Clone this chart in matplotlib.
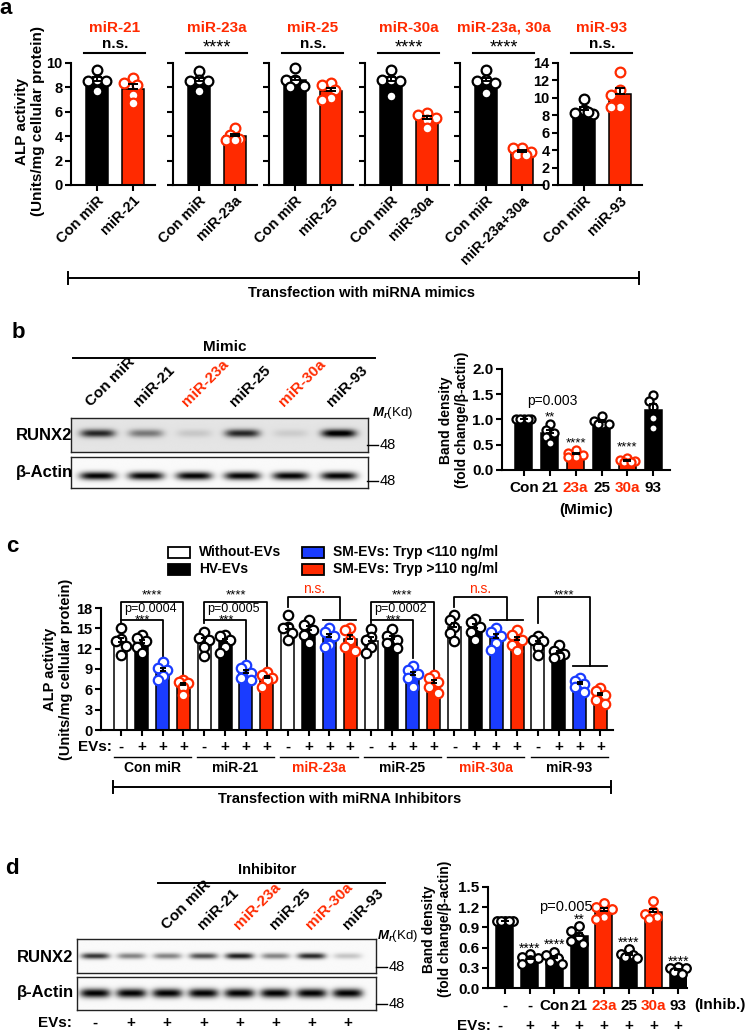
import numpy as np
import matplotlib
matplotlib.use('Agg')
import matplotlib.pyplot as plt
from matplotlib.transforms import Affine2D, blended_transform_factory
from matplotlib.lines import Line2D
from matplotlib.patches import Rectangle

plt.rcParams['font.family'] = ['Liberation Sans', 'DejaVu Sans']
plt.rcParams['font.weight'] = 'bold'
plt.rcParams['mathtext.fontset'] = 'custom'
plt.rcParams['mathtext.rm'] = 'Liberation Sans'
plt.rcParams['mathtext.it'] = 'Liberation Sans:italic'

RED = '#ff2a00'
BLUE = '#1a3cff'

# a: ALP activity after transfection with mimics (Con miR vs mimic)
a_titles = ['miR-21', 'miR-23a', 'miR-25', 'miR-30a', 'miR-23a, 30a', 'miR-93']
a_names = ['miR-21', 'miR-23a', 'miR-25', 'miR-30a', 'miR-23a+30a', 'miR-93']
a_sig = ['n.s.', '****', 'n.s.', '****', '****', 'n.s.']
a_con = [[9.45, 8.63, 8.5, 8.5, 7.67],
         [9.37, 8.63, 8.5, 8.5, 7.67],
         [9.6, 8.6, 8.6, 8.1, 8.0],
         [9.45, 8.63, 8.6, 8.5, 7.26],
         [9.45, 8.63, 8.5, 8.4, 7.5],
         [9.9, 8.6, 8.3, 8.1, 8.4]]
a_mim = [[8.77, 8.36, 8.22, 7.4, 6.7],
         [4.66, 4.1, 3.8, 3.7, 3.7],
         [8.4, 8.2, 7.8, 7.1, 7.0],
         [5.9, 5.75, 5.5, 5.35, 4.66],
         [3.0, 3.0, 2.74, 2.47, 2.5],
         [13.0, 10.85, 10.36, 8.94, 8.94]]

# b: western blot (mimic) + band density
b_lanes = ['Con miR', 'miR-21', 'miR-23a', 'miR-25', 'miR-30a', 'miR-93']
b_red = [False, False, True, False, True, False]
b_runx2 = [0.8, 0.45, 0.12, 0.8, 0.1, 1.0]
b_actin = [0.95, 0.95, 0.95, 0.95, 0.95, 0.95]
b_ticks = ['Con', '21', '23a', '25', '30a', '93']
b_dens = [[1.0, 1.0, 1.0, 1.0, 1.0],
          [0.92, 0.8, 0.74, 0.66, 0.53],
          [0.4, 0.33, 0.3, 0.26, 0.25],
          [1.06, 0.97, 0.92, 0.92, 0.91],
          [0.23, 0.2, 0.17, 0.15, 0.15],
          [1.49, 1.37, 1.25, 1.02, 0.84]]
b_stars = ['', '**', '****', '', '****', '']

# c: ALP activity after transfection with inhibitors, +/- EVs
c_groups = ['Con miR', 'miR-21', 'miR-23a', 'miR-25', 'miR-30a', 'miR-93']
c_group_red = [False, False, True, False, True, False]
c_series = ['Without-EVs', 'HV-EVs', 'SM-EVs: Tryp <110 ng/ml', 'SM-EVs: Tryp >110 ng/ml']
c_colors = ['white', 'black', BLUE, RED]
c_pts = ['black', 'black', BLUE, RED]
c_evs = ['-', '+', '+', '+']
c_vals = [
    [[15.04, 13.4, 13.07, 12.4, 11.1], [14.05, 13.56, 13.07, 12.3, 11.3],
     [10.1, 9.1, 8.9, 7.9, 7.4], [7.4, 7.15, 6.9, 6.4, 5.2]],
    [[14.5, 13.56, 13.3, 12.3, 10.85], [14.05, 13.8, 13.3, 12.3, 11.3],
     [9.6, 9.1, 8.4, 7.6, 7.4], [8.6, 8.1, 7.6, 7.4, 6.4]],
    [[17.0, 15.2, 15.0, 14.3, 13.3], [16.27, 15.5, 14.8, 14.05, 12.8],
     [15.04, 14.5, 13.8, 12.6, 12.3], [15.04, 14.8, 13.3, 12.3, 11.6]],
    [[14.9, 13.7, 13.3, 12.3, 11.4], [14.9, 13.8, 13.3, 12.8, 12.1],
     [9.4, 8.9, 8.2, 7.6, 6.4], [8.1, 7.6, 7.15, 6.4, 5.5]],
    [[16.9, 16.2, 15.2, 14.3, 13.07], [16.4, 16.0, 15.2, 14.5, 13.3],
     [15.04, 14.5, 13.8, 12.8, 11.8], [14.7, 14.05, 13.3, 12.6, 11.6]],
    [[13.8, 13.3, 13.07, 12.3, 11.1], [12.6, 11.6, 11.2, 10.9, 10.6],
     [7.7, 7.3, 6.8, 6.3, 5.6], [6.2, 5.7, 5.2, 4.5, 3.9]],
]

# d: western blot (inhibitor) + band density
d_lanes = ['', '', 'Con miR', 'miR-21', 'miR-23a', 'miR-25', 'miR-30a', 'miR-93']
d_red = [False, False, False, False, True, False, True, False]
d_evs = ['-', '+', '+', '+', '+', '+', '+', '+']
d_runx2 = [0.75, 0.45, 0.45, 0.65, 0.85, 0.45, 0.8, 0.2]
d_actin = [0.95, 0.95, 0.95, 0.95, 0.95, 0.95, 0.95, 0.95]
d_ticks = ['-', '-', 'Con', '21', '23a', '25', '30a', '93']
d_dens = [[1.0, 1.0, 1.0, 1.0, 1.0],
          [0.5, 0.46, 0.44, 0.41, 0.35],
          [0.53, 0.49, 0.44, 0.39, 0.36],
          [0.92, 0.84, 0.76, 0.7, 0.66],
          [1.26, 1.2, 1.18, 1.05, 1.03],
          [0.58, 0.51, 0.49, 0.46, 0.44],
          [1.29, 1.15, 1.1, 1.05, 1.03],
          [0.31, 0.3, 0.29, 0.24, 0.21]]
d_stars = ['', '****', '****', '**', '', '****', '', '****']

W, H = 745, 1033
fig = plt.figure(figsize=(W / 100, H / 100), dpi=100)
PX = Affine2D().scale(1 / W, -1 / H).translate(0, 1) + fig.transFigure


def px_axes(x0, y0, x1, y1):
    return fig.add_axes([x0 / W, 1 - y1 / H, (x1 - x0) / W, (y1 - y0) / H])


def ftext(x, y, s, **kw):
    kw.setdefault('ha', 'center')
    kw.setdefault('va', 'center')
    fig.text(x, y, s, transform=PX, **kw)


def fline(xs, ys, lw=1.4):
    fig.add_artist(Line2D(xs, ys, transform=PX, color='black', lw=lw))


def xdata_ypx(ax):
    return blended_transform_factory(ax.transData, PX)


def style(ax, size=10.5):
    for s in ('top', 'right'):
        ax.spines[s].set_visible(False)
    for s in ('left', 'bottom'):
        ax.spines[s].set_linewidth(1.5)
    ax.tick_params(width=1.5, length=4, labelsize=size, pad=2)


def swarm(ax, x, vals, d, lim):
    # simple beeswarm in pixel space, kept inside +-lim pixels
    tr = ax.transData
    ppu = tr.transform((1, 0))[0] - tr.transform((0, 0))[0]
    placed, xs = [], []
    for v in vals:
        yp = tr.transform((x, v))[1]
        best, best_d = 0.0, -1
        for k in (0, -1, 1, -2, 2, -3, 3, -4, 4):
            xo = k * 0.5 * d
            if abs(xo) > lim:
                continue
            dm = min([np.hypot(xo - a, yp - b) for a, b in placed] or [1e9])
            if dm >= 0.85 * d:
                best = xo
                break
            if dm > best_d:
                best, best_d = xo, dm
        placed.append((best, yp))
        xs.append(x + best / ppu)
    return xs


def dot_bar(ax, x, vals, fc, pc, width, d, cap, ms):
    m = np.mean(vals)
    se = np.std(vals, ddof=1) / np.sqrt(len(vals))
    ax.bar(x, m, width, color=fc, edgecolor='black', linewidth=1.1, zorder=2)
    tr = ax.transData
    half = (tr.transform((width, 0))[0] - tr.transform((0, 0))[0]) / 2
    xs = swarm(ax, x, vals, d, half)
    ax.plot(xs, vals, 'o', ls='none', ms=ms, mfc='white', mec=pc, mew=1.6,
            zorder=3, clip_on=False)
    ax.errorbar(x, m, yerr=[[0], [se]], fmt='none', ecolor='black',
                elinewidth=1.4, capsize=cap, capthick=1.4, zorder=4)


def blot(x0, y0, x1, y1, xl, inten, bg, yc, hy, hx):
    ax = px_axes(x0, y0, x1, y1)
    xx = np.linspace(xl[0], xl[1], 500)
    yy = np.linspace(0, 1, 80)
    X, Y = np.meshgrid(xx, yy)
    img = np.full(X.shape, bg)
    for i, v in enumerate(inten):
        band = v * np.exp(-np.abs((X - i) / hx) ** 4 - ((Y - yc) / hy) ** 2)
        img = img + band * (1 - img)
    ax.imshow(img, cmap='gray_r', vmin=0, vmax=0.95, origin='lower', aspect='auto',
              extent=(xl[0], xl[1], 0, 1), interpolation='bilinear')
    ax.set_xlim(xl)
    ax.set_ylim(0, 1)
    ax.set_xticks([])
    ax.set_yticks([])
    for s in ax.spines.values():
        s.set_linewidth(1.0)
        s.set_color('#222222')
    return ax


# ---------------- a ----------------
ftext(6, 9, 'a', fontsize=16)
a_left = [71, 173, 269, 365, 460, 558]
for i in range(6):
    x0 = a_left[i]
    ax = px_axes(x0, 63, x0 + 84, 185)
    top = 14 if i == 5 else 10
    ax.set_xlim(-0.72, 1.62)
    ax.set_ylim(0, top)
    style(ax, 10.5)
    ax.set_yticks(range(0, top + 1, 2))
    if i not in (0, 5):
        ax.set_yticklabels([])
    ax.set_xticks([0, 1])
    ax.set_xticklabels(['Con miR', a_names[i]], rotation=45, ha='right',
                       rotation_mode='anchor')
    dot_bar(ax, 0, a_con[i], 'black', 'black', 0.62, 9, 3.5, 7)
    dot_bar(ax, 1, a_mim[i], RED, RED, 0.62, 9, 3.5, 7)
    tr = xdata_ypx(ax)
    ax.text(0.5, 32, a_titles[i], transform=tr, color=RED, fontsize=11,
            ha='center', va='baseline')
    if a_sig[i] == 'n.s.':
        ax.text(0.5, 48, 'n.s.', transform=tr, fontsize=11, ha='center', va='baseline')
    else:
        ax.text(0.5, 52, a_sig[i], transform=tr, fontsize=13, fontweight='normal',
                ha='center', va='baseline')
    ax.plot([-0.35, 1.35], [53, 53], transform=tr, color='black', lw=1.5, clip_on=False)

ftext(30, 121, 'ALP activity\n(Units/mg cellular protein)', rotation=90,
      fontsize=11, linespacing=1.1)
fline([68, 639], [278, 278])
fline([68, 68], [272, 284])
fline([639, 639], [272, 284])
ftext(362, 293, 'Transfection with miRNA mimics', fontsize=10.5)

# ---------------- b ----------------
ftext(18, 332, 'b', fontsize=16)
ftext(225, 347, 'Mimic', fontsize=11)
fline([73, 375], [358, 358])
bx = (-0.55, 5.6)
axb1 = blot(71, 418, 368, 452, bx, b_runx2, 0.1, 0.55, 0.12, 0.36)
axb2 = blot(71, 457, 368, 488, bx, b_actin, 0.02, 0.39, 0.13, 0.37)
tr = xdata_ypx(axb1)
for i, lab in enumerate(b_lanes):
    axb1.text(i - 0.1, 409, lab, transform=tr, rotation=45, ha='left', va='bottom',
              rotation_mode='anchor', fontsize=11, color=RED if b_red[i] else 'black')
ftext(44, 435, 'RUNX2', fontsize=12)
ftext(44, 472, '\u03b2-Actin', fontsize=12)
ftext(372, 413, '$M_r$(Kd)', ha='left', fontsize=9.5, fontweight='normal')
fline([367, 378], [445, 445], lw=1.0)
ftext(380, 445, '48', ha='left', fontsize=10.5, fontweight='normal')
fline([367, 378], [481, 481], lw=1.0)
ftext(380, 481, '48', ha='left', fontsize=10.5, fontweight='normal')

ax = px_axes(502, 369, 670, 470)
ax.set_xlim(-0.85, 5.65)
ax.set_ylim(0, 2)
style(ax, 11)
ax.set_yticks([0, 0.5, 1.0, 1.5, 2.0])
ax.set_yticklabels(['0.0', '0.5', '1.0', '1.5', '2.0'])
ax.set_xticks(range(6))
ax.set_xticklabels(b_ticks)
ax.tick_params(axis='x', pad=4)
for lab, r in zip(ax.get_xticklabels(), b_red):
    if r:
        lab.set_color(RED)
for i, vals in enumerate(b_dens):
    col = RED if b_red[i] else 'black'
    dot_bar(ax, i, vals, col, col, 0.66, 7.5, 3, 5.8)
tr = xdata_ypx(ax)
star_y = [0, 420, 446, 0, 450, 0]
for i, s in enumerate(b_stars):
    if s:
        ax.text(i, star_y[i], s, transform=tr, fontsize=9.5, fontweight='normal',
                ha='center', va='baseline')
ax.text(1.1, 405, 'p=0.003', transform=tr, fontsize=10, fontweight='normal',
        ha='center', va='baseline')
ax.text(2.4, 510, '(Mimic)', transform=tr, fontsize=11, ha='center', va='center')
ftext(454, 420, 'Band density\n(fold change/\u03b2-actin)', rotation=90,
      fontsize=10, linespacing=1.15)

# ---------------- c ----------------
ftext(12, 546, 'c', fontsize=16)
leg_xy = [(168, 552), (168, 569), (302, 552), (302, 569)]
for (x, y), fc, lab in zip(leg_xy, c_colors, c_series):
    fig.add_artist(Rectangle((x, y - 5.5), 22, 11, transform=PX, facecolor=fc,
                             edgecolor='black', lw=1.3))
    ftext(x + 31, y, lab, ha='left', fontsize=10)

ax = px_axes(101, 608, 613, 730)
ax.set_xlim(-0.95, 23.6)
ax.set_ylim(0, 18)
style(ax, 10.5)
ax.set_yticks(range(0, 19, 3))
ax.set_xticks(range(24))
ax.set_xticklabels([])
for g in range(6):
    for s in range(4):
        dot_bar(ax, 4 * g + s, c_vals[g][s], c_colors[s], c_pts[s], 0.62, 9.5, 2.5, 6.8)
tr = xdata_ypx(ax)
for g in range(6):
    for s in range(4):
        ax.text(4 * g + s, 747, c_evs[s], transform=tr, fontsize=11, ha='center', va='center')
    ax.plot([4 * g - 0.35, 4 * g + 3.35], [757, 757], transform=tr, color='black',
            lw=1.0, clip_on=False)
    ax.text(4 * g + 1.5, 768, c_groups[g], transform=tr, fontsize=10, ha='center',
            va='center', color=RED if c_group_red[g] else 'black')
ftext(112, 747, 'EVs:', ha='right', fontsize=11)

lk = dict(color='black', lw=1.3, clip_on=False)
for b0, ptxt, ob, ib in [(0, 'p=0.0004', 7.8, 10.6), (4, 'p=0.0005', 9.2, 10.4),
                         (12, 'p=0.0002', 8.55, 10.6)]:
    ax.plot([b0, b0, b0 + 3, b0 + 3], [15.8, 18.9, 18.9, ob], **lk)
    ax.plot([b0, b0 + 2, b0 + 2], [16.2, 16.2, ib], **lk)
    ax.text(b0 + 1.5, 598, '****', transform=tr, fontsize=9.5, fontweight='normal', ha='center')
    ax.text(b0 + 1.4, 612, ptxt, transform=tr, fontsize=9, fontweight='normal', ha='center')
    ax.text(b0 + 1.05, 623, '***', transform=tr, fontsize=9.5, fontweight='normal', ha='center')
for b0 in (8, 16):
    ax.plot([b0, b0, b0 + 2.5, b0 + 2.5], [18.2, 19.66, 19.66, 16.2], **lk)
    ax.plot([b0 + 1.7, b0 + 3.3], [16.2, 16.2], **lk)
    ax.text(b0 + 1.25, 593, 'n.s.', transform=tr, fontsize=10, fontweight='normal',
            color=RED, ha='center')
ax.plot([20, 20, 22.5, 22.5], [15.8, 19.66, 19.66, 9.4], **lk)
ax.plot([21.7, 23.3], [9.4, 9.4], **lk)
ax.text(21.25, 598, '****', transform=tr, fontsize=9.5, fontweight='normal', ha='center')

ftext(58, 669, 'ALP activity\n(Units/mg cellular protein)', rotation=90,
      fontsize=10.5, linespacing=1.1)
fline([113, 611], [787, 787])
fline([113, 113], [781, 793])
fline([611, 611], [781, 793])
ftext(340, 799, 'Transfection with miRNA Inhibitors', fontsize=10.5)

# ---------------- d ----------------
ftext(12, 868, 'd', fontsize=16)
ftext(267, 870, 'Inhibitor', fontsize=10.5)
fline([158, 385], [883, 883])
dx = (-0.5, 7.78)
axd1 = blot(77, 939, 376, 973, dx, d_runx2, 0.02, 0.5, 0.09, 0.39)
axd2 = blot(77, 977, 376, 1010, dx, d_actin, 0.02, 0.51, 0.14, 0.42)
tr = xdata_ypx(axd1)
for i, lab in enumerate(d_lanes):
    if lab:
        axd1.text(i + 0.05, 932, lab, transform=tr, rotation=45, ha='left', va='bottom',
                  rotation_mode='anchor', fontsize=11, color=RED if d_red[i] else 'black')
for i, s in enumerate(d_evs):
    axd1.text(i, 1023, s, transform=tr, fontsize=11, ha='center', va='center')
ftext(72, 1023, 'EVs:', ha='right', fontsize=11)
ftext(45, 958, 'RUNX2', fontsize=12)
ftext(45, 993, '\u03b2-Actin', fontsize=12)
ftext(377, 936, '$M_r$(Kd)', ha='left', fontsize=9.5, fontweight='normal')
fline([376, 387], [967, 967], lw=1.0)
ftext(389, 967, '48', ha='left', fontsize=10.5, fontweight='normal')
fline([376, 387], [1004, 1004], lw=1.0)
ftext(389, 1004, '48', ha='left', fontsize=10.5, fontweight='normal')

ax = px_axes(488, 887, 687, 988)
ax.set_xlim(-0.68, 7.36)
ax.set_ylim(0, 1.5)
style(ax, 11)
ax.set_yticks([0, 0.3, 0.6, 0.9, 1.2, 1.5])
ax.set_yticklabels(['0.0', '0.3', '0.6', '0.9', '1.2', '1.5'])
ax.set_xticks(range(8))
ax.set_xticklabels(d_ticks)
ax.tick_params(axis='x', pad=4)
for lab, r in zip(ax.get_xticklabels(), d_red):
    if r:
        lab.set_color(RED)
for i, vals in enumerate(d_dens):
    col = RED if d_red[i] else 'black'
    dot_bar(ax, i, vals, col, col, 0.69, 8, 3, 6.2)
tr = xdata_ypx(ax)
dstar_y = [0, 953, 949, 924, 0, 947, 0, 966]
for i, s in enumerate(d_stars):
    if s:
        ax.text(i, dstar_y[i], s, transform=tr, fontsize=10, fontweight='normal',
                ha='center', va='baseline')
ax.text(2.45, 911, 'p=0.005', transform=tr, fontsize=10.5, fontweight='normal',
        ha='center', va='baseline')
ftext(491, 1026, 'EVs:', ha='right', fontsize=11)
for i, s in enumerate(d_evs):
    ax.text(i - 0.2 if i == 0 else i, 1026, s, transform=tr, fontsize=11,
            ha='center', va='center')
ftext(720, 1005, '(Inhib.)', fontsize=11)
ftext(437, 929, 'Band density\n(fold change/\u03b2-actin)', rotation=90,
      fontsize=10, linespacing=1.15)

fig.savefig('out.png', dpi=100)
